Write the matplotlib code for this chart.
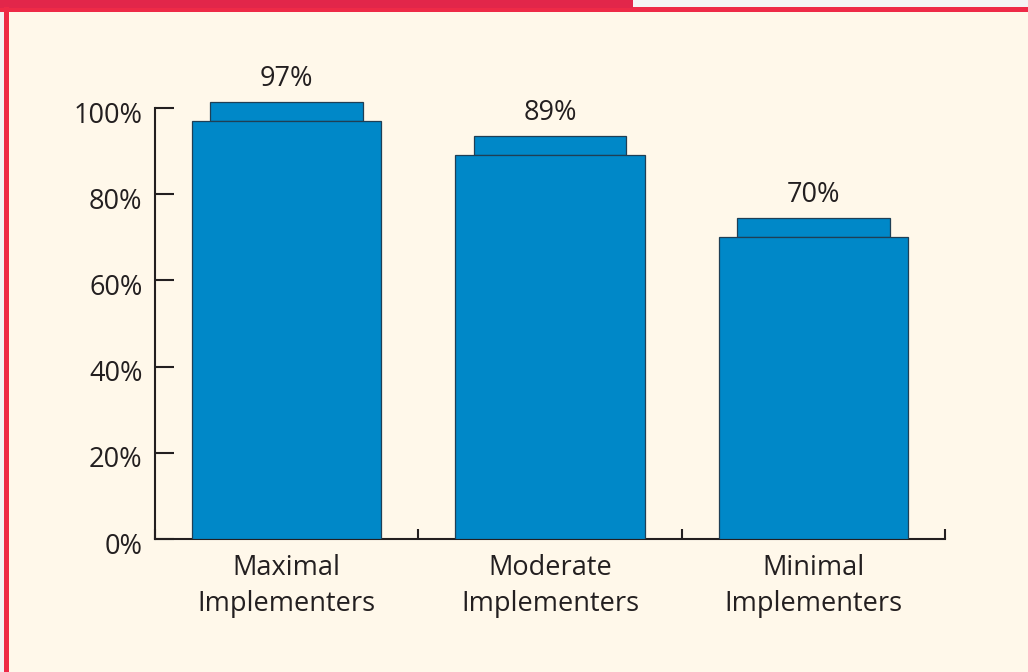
import matplotlib
matplotlib.use("Agg")
import matplotlib.pyplot as plt
import matplotlib.transforms as mtransforms
from matplotlib.patches import Rectangle
import numpy as np

# data
categories = ["Maximal\nImplementers", "Moderate\nImplementers", "Minimal\nImplementers"]
values = [97, 89, 70]
value_labels = ["97%", "89%", "70%"]
y_ticks = [0, 20, 40, 60, 80, 100]
y_tick_labels = ["0%", "20%", "40%", "60%", "80%", "100%"]

BLUE = "#0088C8"
RED = "#EE2A47"
DARK_RED = "#E2264A"
CREAM = "#FFF8EA"
INK = "#231F20"
FS = 19.5

plt.rcParams["font.family"] = ["Open Sans", "DejaVu Sans"]

W, H = 1028, 672
fig = plt.figure(figsize=(W / 100, H / 100), dpi=100, facecolor=CREAM)


def px(x, y, w, h):
    # pixel box (top-left origin) -> figure fraction
    return (x / W, 1 - (y + h) / H), w / W, h / H


# frame decorations
for (x, y, w, h, c) in [(0, 0, W, 12, RED), (0, 0, 633, 8, DARK_RED),
                        (633, 0, W - 633, 7, "#F4F4F4"), (0, 12, 4, H, "#F2F2F4"),
                        (4, 7, 5, H, RED)]:
    xy, ww, hh = px(x, y, w, h)
    fig.patches.append(Rectangle(xy, ww, hh, transform=fig.transFigure,
                                 facecolor=c, edgecolor="none", zorder=0))

ax = fig.add_axes([155 / W, 1 - 539 / H, (945 - 155) / W, (539 - 64.9) / H])
ax.set_facecolor("none")

x = np.arange(len(categories))
cap_h = 4.4
ax.bar(x, values, width=0.72, color=BLUE, edgecolor="#1F3F55", linewidth=0.9, zorder=3)
ax.bar(x, [cap_h] * len(values), bottom=values, width=0.58, color=BLUE,
       edgecolor="#1F3F55", linewidth=0.9, zorder=2)

for xi, v, lab in zip(x, values, value_labels):
    ax.text(xi, v + 9.8, lab, ha="center", va="center", fontsize=FS, color=INK)

ax.set_xlim(-0.5, 2.5)
ax.set_ylim(0, 110)

for s in ["top", "right"]:
    ax.spines[s].set_visible(False)
for s in ["left", "bottom"]:
    ax.spines[s].set_color(INK)
    ax.spines[s].set_linewidth(1.5)
ax.spines["left"].set_bounds(0, 100)

ax.set_yticks(y_ticks)
ax.set_yticklabels(y_tick_labels)
ax.tick_params(axis="y", direction="in", length=14, width=1.5, color=INK,
               labelsize=FS, labelcolor=INK, pad=9)
# y labels sit a few pixels below their ticks in the source
offset = mtransforms.ScaledTranslation(0, -4 / 100, fig.dpi_scale_trans)
for lab in ax.get_yticklabels():
    lab.set_transform(lab.get_transform() + offset)

ax.set_xticks(x)
ax.set_xticklabels(categories, linespacing=1.38)
ax.tick_params(axis="x", which="major", length=0, labelsize=FS, labelcolor=INK, pad=11)
ax.set_xticks(np.arange(-0.5, 3, 1.0), minor=True)
ax.tick_params(axis="x", which="minor", direction="in", length=7, width=1.5, color=INK)

fig.savefig("out.png", dpi=100, facecolor=CREAM)
